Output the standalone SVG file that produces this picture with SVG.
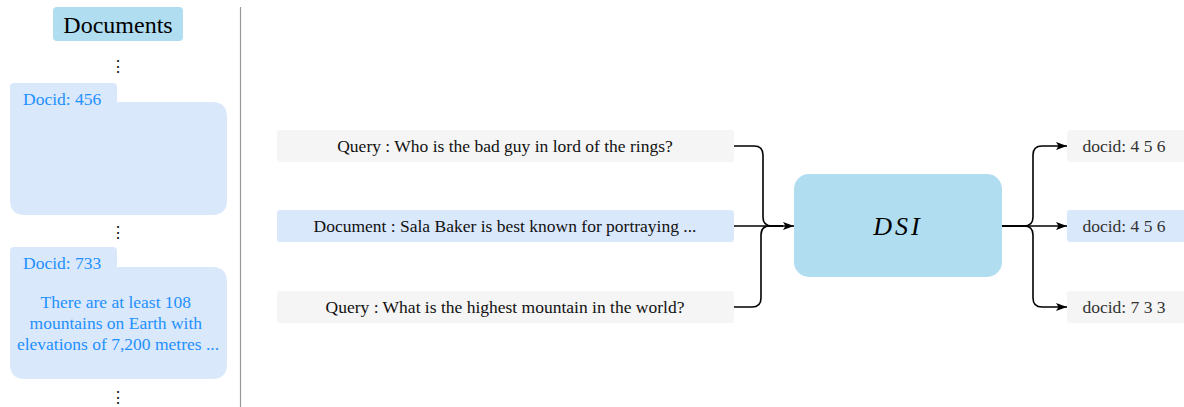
<svg xmlns="http://www.w3.org/2000/svg" width="1184" height="407" viewBox="0 0 1184 407">
  <style>
    text { font-family: "Liberation Serif", "DejaVu Serif", serif; }
    .lbl { font-size: 17.5px; fill: #111111; text-anchor: middle; }
    .out { font-size: 17.5px; fill: #333333; text-anchor: middle; }
    .doc { fill: #dae8fc; }
    .doctext { font-size: 17.5px; fill: #1e90ff; }
    .grey { fill: #f5f5f5; }
    .blue { fill: #dae8fc; }
    .dots { font-size: 16px; fill: #111111; text-anchor: middle; }
    .edge { fill: none; stroke: #000000; stroke-width: 1.6; }
  </style>
  <defs>
    <marker id="arrow" markerWidth="12" markerHeight="9" refX="11" refY="4" orient="auto" markerUnits="userSpaceOnUse">
      <path d="M0,0 L11,4 L0,8 L2.5,4 Z" fill="#000000"/>
    </marker>
  </defs>
  <rect width="1184" height="407" fill="#ffffff"/>

  <!-- left column: document store -->
  <g id="documents-header">
    <rect x="53" y="7" width="130" height="34" rx="4" fill="#b1ddf0"/>
    <text x="118" y="33" font-size="24" text-anchor="middle" fill="#000000">Documents</text>
  </g>
  <g id="ellipsis-top"><text class="dots" x="118" y="72">⋮</text></g>

  <g id="doc-456">
    <path class="doc" d="M10,87 Q10,83 14,83 H113 Q117,83 117,87 V102 H212 Q227,102 227,117 V200 Q227,215 212,215 H25 Q10,215 10,200 Z"/>
    <text class="doctext" x="23" y="105">Docid: 456</text>
  </g>
  <g id="ellipsis-mid"><text class="dots" x="118" y="238">⋮</text></g>

  <g id="doc-733">
    <path class="doc" d="M10,251 Q10,247 14,247 H113 Q117,247 117,251 V267 H212 Q227,267 227,282 V364 Q227,379 212,379 H25 Q10,379 10,364 Z"/>
    <text class="doctext" x="23" y="269">Docid: 733</text>
    <text class="doctext" text-anchor="middle">
      <tspan x="118" y="308">There are at least 108</tspan>
      <tspan x="118" y="329">mountains on Earth with</tspan>
      <tspan x="118" y="350">elevations of 7,200 metres ...</tspan>
    </text>
  </g>
  <g id="ellipsis-bottom"><text class="dots" x="118" y="403">⋮</text></g>

  <line id="divider" x1="240.5" y1="7" x2="240.5" y2="407" stroke="#999999" stroke-width="1.2"/>

  <!-- inputs -->
  <g id="query-1">
    <rect class="grey" x="277" y="130" width="457" height="32" rx="3"/>
    <text class="lbl" x="505" y="152">Query : Who is the bad guy in lord of the rings?</text>
  </g>
  <g id="document-input">
    <rect class="blue" x="277" y="210" width="457" height="32" rx="3"/>
    <text class="lbl" x="505" y="232">Document : Sala Baker is best known for portraying ...</text>
  </g>
  <g id="query-2">
    <rect class="grey" x="277" y="291" width="457" height="32" rx="3"/>
    <text class="lbl" x="505" y="313">Query : What is the highest mountain in the world?</text>
  </g>

  <!-- model -->
  <g id="dsi">
    <rect x="794" y="174" width="208" height="103" rx="15" fill="#b1ddf0"/>
    <text x="898" y="235" font-size="26" font-style="italic" letter-spacing="3" text-anchor="middle" fill="#000000">DSI</text>
  </g>

  <!-- outputs -->
  <g id="output-1">
    <rect class="grey" x="1067" y="130" width="125" height="32" rx="3"/>
    <text class="out" x="1124" y="152">docid: 4 5 6</text>
  </g>
  <g id="output-2">
    <rect class="blue" x="1067" y="210" width="125" height="32" rx="3"/>
    <text class="out" x="1124" y="232">docid: 4 5 6</text>
  </g>
  <g id="output-3">
    <rect class="grey" x="1067" y="291" width="125" height="32" rx="3"/>
    <text class="out" x="1124" y="313">docid: 7 3 3</text>
  </g>

  <g id="connectors">
    <path class="edge" d="M734,146 H754 Q763,146 763,155 V217 Q763,226 772,226 H783"/>
    <path class="edge" d="M734,226 H794" marker-end="url(#arrow)"/>
    <path class="edge" d="M734,307 H752 Q761,307 761,298 V235 Q761,226 770,226 H783"/>
    <path class="edge" d="M1002,226 H1024 Q1033,226 1033,217 V155 Q1033,146 1042,146 H1067" marker-end="url(#arrow)"/>
    <path class="edge" d="M1002,226 H1067" marker-end="url(#arrow)"/>
    <path class="edge" d="M1002,226 H1024 Q1033,226 1033,235 V298 Q1033,307 1042,307 H1067" marker-end="url(#arrow)"/>
  </g>
</svg>
